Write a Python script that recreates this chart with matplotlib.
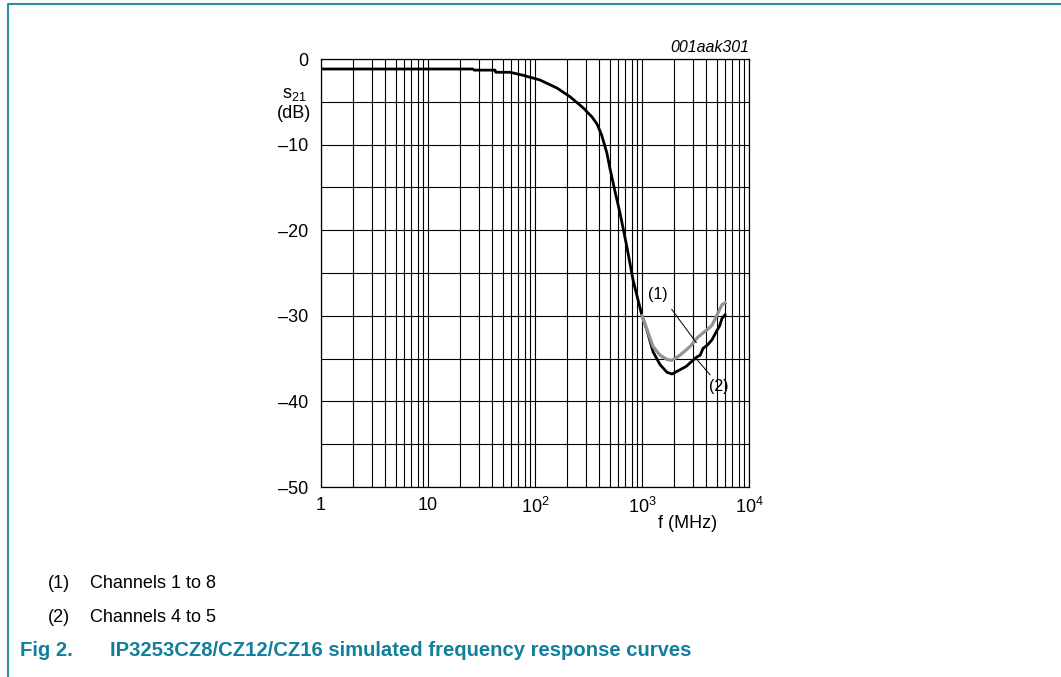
import matplotlib
matplotlib.use("Agg")
import matplotlib.pyplot as plt
from matplotlib.ticker import LogLocator, NullFormatter, FixedLocator

plt.rcParams['font.family'] = ['Liberation Sans', 'DejaVu Sans']
plt.rcParams['mathtext.fontset'] = 'custom'
plt.rcParams['mathtext.rm'] = 'Liberation Sans'
plt.rcParams['mathtext.it'] = 'Liberation Sans:italic'
plt.rcParams['mathtext.default'] = 'regular'

# data ------------------------------------------------------------
# (2) channels 4 to 5 (black), full sweep
f_ch45 = [1, 5, 26.3, 27, 42.3, 43, 58.4, 77.3, 111, 161, 212, 264, 290, 313,
          340, 380, 420, 470, 502, 560, 623, 724, 824, 1000, 1114, 1268, 1473,
          1713, 1907, 2265, 2600, 2810, 3268, 3500, 3717, 4100, 4510, 5025,
          5300, 5596, 5970]
s21_ch45 = [-1.17, -1.17, -1.17, -1.3, -1.3, -1.55, -1.55, -1.9, -2.45, -3.4,
            -4.4, -5.4, -5.85, -6.3, -6.75, -7.6, -8.9, -11.0, -12.8, -15.5,
            -18.0, -22.0, -25.8, -30.0, -31.7, -34.2, -35.7, -36.6, -36.8,
            -36.3, -35.9, -35.5, -34.8, -34.6, -33.8, -33.4, -32.8, -31.7,
            -31.2, -30.3, -29.9]

# (1) channels 1 to 8 (grey), splits off above ~1 GHz
f_ch18 = [1000, 1114, 1268, 1473, 1713, 1907, 2265, 2810, 3268, 3717, 4100,
          4510, 5025, 5596, 5970]
s21_ch18 = [-30.0, -31.6, -33.6, -34.6, -35.1, -35.2, -34.6, -33.6, -32.6,
            -32.0, -31.6, -31.1, -29.9, -28.7, -28.5]

y_ticks = [0, -10, -20, -30, -40, -50]
y_labels = ['0', '\u201310', '\u201320', '\u201330', '\u201340', '\u201350']
x_ticks = [1, 10, 100, 1000, 10000]
x_labels = ['1', '10', '$10^2$', '$10^3$', '$10^4$']

notes = [('(1)', 'Channels 1 to 8'), ('(2)', 'Channels 4 to 5')]
caption_num = 'Fig 2.'
caption = 'IP3253CZ8/CZ12/CZ16 simulated frequency response curves'

teal = '#127f9b'

W, H = 1061, 677
fig = plt.figure(figsize=(W / 100, H / 100), dpi=100)
ax = fig.add_axes([321 / W, 1 - 487 / H, 428 / W, 428 / H])

ax.plot(f_ch45, s21_ch45, color='black', lw=2.0, zorder=3)
ax.plot(f_ch18, s21_ch18, color='#939393', lw=2.3, zorder=4)

ax.set_xscale('log')
ax.set_xlim(1, 10000)
ax.set_ylim(-50, 0)
ax.xaxis.set_major_locator(FixedLocator(x_ticks))
ax.set_xticklabels(x_labels)
ax.xaxis.set_minor_locator(LogLocator(base=10, subs=range(2, 10)))
ax.xaxis.set_minor_formatter(NullFormatter())
ax.set_yticks(y_ticks)
ax.set_yticklabels(y_labels)
ax.set_yticks(range(-45, 0, 10), minor=True)
ax.grid(True, which='both', color='black', lw=0.8)
ax.set_axisbelow(True)
ax.tick_params(which='both', length=0, labelsize=13)
ax.tick_params(axis='x', pad=7)
ax.tick_params(axis='y', pad=9)
for s in ax.spines.values():
    s.set_linewidth(0.9)

# axis labels
fig.text(294 / W, 1 - 104 / H, 's$_{21}$\n(dB)', ha='center', va='center',
         fontsize=13, linespacing=1.15)
fig.text(688 / W, 1 - 524 / H, 'f (MHz)', ha='center', va='center', fontsize=13)
fig.text(749 / W, 1 - 47 / H, '001aak301', ha='right', va='center',
         fontsize=11.5, style='italic')

# curve annotations
ax.annotate('', xy=(10 ** ((698 - 321) / 107), -(345 - 59) / 8.56),
            xytext=(10 ** ((670 - 321) / 107), -(307 - 59) / 8.56),
            arrowprops=dict(arrowstyle='-', lw=0.7, color='black'), zorder=5)
ax.text(10 ** ((658 - 321) / 107), -(295 - 59) / 8.56, '(1)', ha='center',
        va='center', fontsize=11.5, zorder=5)
ax.annotate('', xy=(10 ** ((712 - 321) / 107), -(377 - 59) / 8.56),
            xytext=(10 ** ((693 - 321) / 107), -(355 - 59) / 8.56),
            arrowprops=dict(arrowstyle='-', lw=0.7, color='black'), zorder=5)
ax.text(10 ** ((719 - 321) / 107), -(386 - 59) / 8.56, '(2)', ha='center',
        va='center', fontsize=11.5, zorder=5)

# notes below the chart
for i, (num, txt) in enumerate(notes):
    y = 1 - (583 + 34 * i) / H
    fig.text(48 / W, y, num, ha='left', va='center', fontsize=13)
    fig.text(90 / W, y, txt, ha='left', va='center', fontsize=13)

fig.text(20 / W, 1 - 650 / H, caption_num, ha='left', va='center',
         fontsize=14.6, fontweight='bold', color=teal)
fig.text(110 / W, 1 - 650 / H, caption, ha='left', va='center',
         fontsize=14.6, fontweight='bold', color=teal)

# frame round the figure (top and left edge)
fig.add_artist(plt.Line2D([8 / W, 8 / W, 1], [0, 1 - 4 / H, 1 - 4 / H],
                          transform=fig.transFigure, color='#2f8ea6', lw=1.5))

fig.savefig('out.png', dpi=100)
